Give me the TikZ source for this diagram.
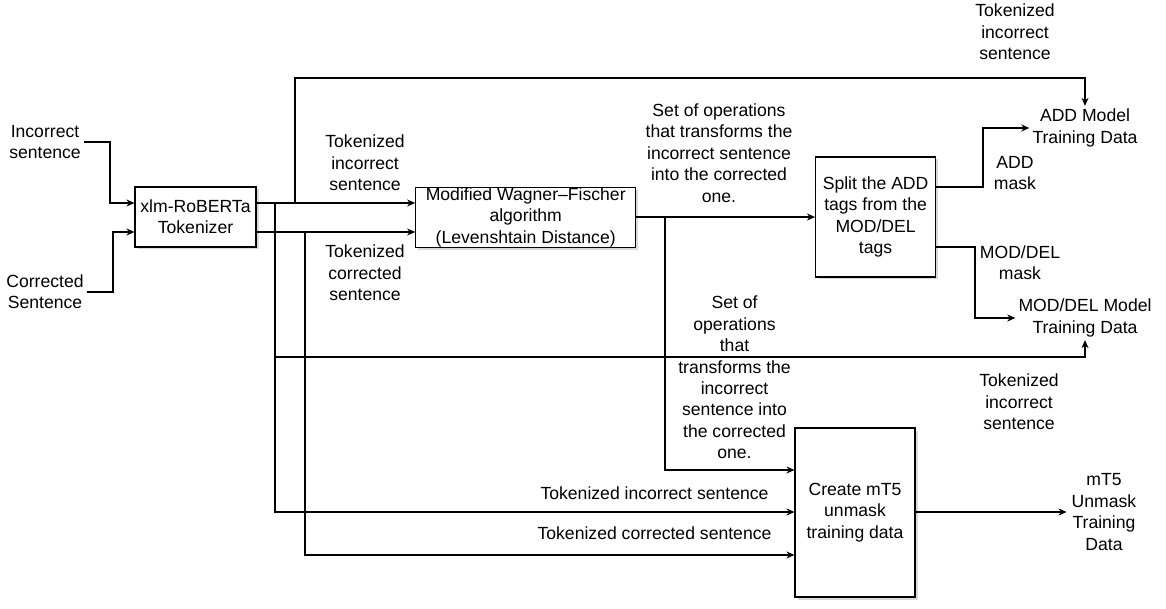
\documentclass[tikz,border=0pt]{standalone}
\usepackage{fontspec}
\setmainfont{Liberation Sans}
\usetikzlibrary{arrows.meta,shadows}
\begin{document}
\begin{tikzpicture}[x=1pt,y=-1pt,
  every node/.style={font=\fontsize{17.6}{21.4}\selectfont, align=center},
  box/.style={draw, line width=1.1pt, fill=white, inner sep=0pt,
    drop shadow={shadow xshift=2.5pt, shadow yshift=-2.5pt, opacity=0.3, fill=gray}},
  lbl/.style={inner sep=3pt},
  link/.style={line width=1.1pt},
  arr/.style={link, -{Stealth[length=8pt,width=7pt,inset=2.5pt]}}
]
\useasboundingbox (0,0) rectangle (1166,609);

% boxes
\node[box, minimum width=121pt, minimum height=60pt] (tok) at (195.5,217) {xlm-RoBERTa\\Tokenizer};
\node[box, minimum width=220pt, minimum height=60pt] (wf) at (525.7,217.3) {Modified Wagner–Fischer\\algorithm\\(Levenshtain Distance)};
\node[box, minimum width=120pt, minimum height=120pt] (split) at (875.6,217) {Split the ADD\\tags from the\\MOD/DEL\\tags};
\node[box, minimum width=120pt, minimum height=169pt] (mt5) at (855,512.5) {Create mT5\\unmask\\training data};

% end-point texts
\node[lbl] (inc) at (45,142) {Incorrect\\sentence};
\node[lbl] (cor) at (45,292) {Corrected\\Sentence};
\node[lbl] (add) at (1085,128) {ADD Model\\Training Data};
\node[lbl] (mod) at (1085,318) {MOD/DEL Model\\Training Data};
\node[lbl, inner sep=5pt] (out) at (1104,512) {mT5\\Unmask\\Training\\Data};

% labels
\node[lbl] (l1) at (365,163) {Tokenized\\incorrect\\sentence};
\node[lbl] (l2) at (365,273) {Tokenized\\corrected\\sentence};
\node[lbl] (l3) at (1015,32) {Tokenized\\incorrect\\sentence};
\node[lbl] (l4) at (719,153) {Set of operations\\that transforms the\\incorrect sentence\\into the corrected\\one.};
\node[lbl] (l5) at (1015,173) {ADD\\mask};
\node[lbl] (l6) at (1020,263) {MOD/DEL\\mask};
\node[lbl] (l7) at (734.5,377.5) {Set of\\operations\\that\\transforms the\\incorrect\\sentence into\\the corrected\\one.};
\node[lbl] (l8) at (1019,402) {Tokenized\\incorrect\\sentence};
\node[lbl] (l9) at (654.5,493) {Tokenized incorrect sentence};
\node[lbl] (l10) at (654.5,533) {Tokenized corrected sentence};

% junction coordinates
\coordinate (jA) at (275,203);
\coordinate (jB) at (305,232);
\coordinate (jC) at (295,203);
\coordinate (jD) at (665,217);

% inputs
\draw[arr] (inc.east) -| (110,203) -- (tok.west |- 0,203);
\draw[arr] (cor.east) -| (113,232) -- (tok.west |- 0,232);

% tokenizer to WF
\draw[arr] (tok.east |- 0,203) -- (wf.west |- 0,203);
\draw[arr] (tok.east |- 0,232) -- (wf.west |- 0,232);

% top branch to ADD
\draw[arr] (jC) -- (295,78) -| (add.north);

% long branch x=275
\draw[arr] (jA) -- (275,357) -| (mod.south);
\draw[arr] (275,357) -- (275,512) -- (mt5.west |- 0,512);

% branch x=305
\draw[arr] (jB) -- (305,555) -- (mt5.west |- 0,555);

% WF to split
\draw[arr] (wf.east |- 0,217) -- (split.west);
\draw[arr] (jD) -- (665,470) -- (mt5.west |- 0,470);

% split outputs
\draw[arr] (split.east |- 0,187) -| (983,128) -- (add.west);
\draw[arr] (split.east |- 0,247) -| (975,318) -- (mod.west);

% mt5 output
\draw[arr] (mt5.east |- 0,512) -- (out.west |- 0,512);
\end{tikzpicture}
\end{document}
